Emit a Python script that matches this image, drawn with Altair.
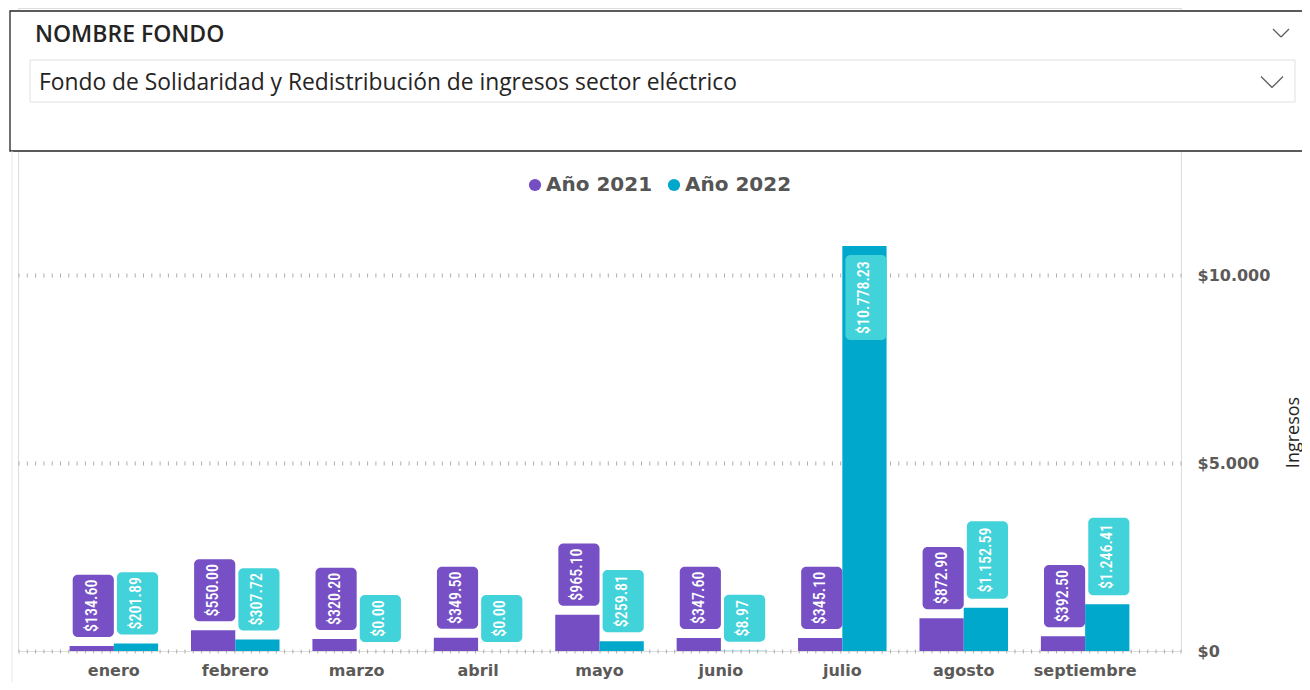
import altair as alt
import pandas as pd

# ---------------- data ----------------
months = ["enero", "febrero", "marzo", "abril", "mayo", "junio", "julio", "agosto", "septiembre"]
years = ["Año 2021", "Año 2022"]
ingresos_2021 = [134.60, 550.00, 320.20, 349.50, 965.10, 347.60, 345.10, 872.90, 392.50]
ingresos_2022 = [201.89, 307.72, 0.00, 0.00, 259.81, 8.97, 10778.23, 1152.59, 1246.41]
y_tick_values = [0, 5000, 10000]
y_tick_labels = ["$0", "$5.000", "$10.000"]
filter_title = "NOMBRE FONDO"
filter_value = "Fondo de Solidaridad y Redistribución de ingresos sector eléctrico"
axis_title = "Ingresos"

bar_colors = ["#744EC2", "#00A8CC"]
box_colors = ["#7650C4", "#42D2D9"]


def fmt(v):
    return "$" + f"{v:,.2f}".replace(",", ".")


rows = []
for yr, vals in zip(years, [ingresos_2021, ingresos_2022]):
    for m, v in zip(months, vals):
        rows.append({"mes": m, "anio": yr, "valor": v, "etiqueta": fmt(v)})
df = pd.DataFrame(rows)

# ---------------- layout ----------------
PLOT_W = 1163
PLOT_H = 643
Y_MAX = 11500
Y_RANGE_TOP = 211          # pixel of Y_MAX inside the view
K = (PLOT_H - Y_RANGE_TOP) / Y_MAX   # px per unit
FONT = "DejaVu Sans"
LABEL_FONT = "Roboto Condensed, Roboto, sans-serif"
UI_FONT = "Segoe UI, Open Sans, sans-serif"

label_expr = "{" + ",".join(f"'{v}':'{l}'" for v, l in zip(y_tick_values, y_tick_labels)) + "}[datum.value + '']"

x_enc = alt.X(
    "mes:N",
    sort=months,
    scale=alt.Scale(paddingInner=0.271, paddingOuter=0.425),
    axis=alt.Axis(
        title=None, domain=False, ticks=False, grid=False, labelAngle=0,
        labelFont=FONT, labelFontWeight="bold", labelFontSize=16, labelColor="#5c5a58",
        labelPadding=11,
    ),
)
xoff = alt.XOffset("anio:N", sort=years, scale=alt.Scale(paddingInner=0, paddingOuter=0))
y_scale = alt.Scale(domain=[0, Y_MAX], range=[PLOT_H, Y_RANGE_TOP], nice=False, zero=True)

base = alt.Chart(df)

bars = base.mark_bar().encode(
    x=x_enc,
    xOffset=xoff,
    y=alt.Y(
        "valor:Q",
        scale=y_scale,
        axis=alt.Axis(
            orient="right", values=y_tick_values, labelExpr=label_expr,
            domain=False, ticks=False, grid=True,
            gridColor="#adadad", gridWidth=4, gridDash=[1, 7.3],
            labelFont=FONT, labelFontWeight="bold", labelFontSize=16, labelColor="#5c5a58",
            labelPadding=16,
            title=axis_title, titleFont=UI_FONT, titleFontWeight="normal", titleFontSize=18,
            titleColor="#252423", titleAngle=270, titleAlign="center", titleBaseline="middle",
            titleX=112, titleY=424,
        ),
    ),
    color=alt.Color(
        "anio:N",
        scale=alt.Scale(domain=years, range=bar_colors),
        legend=alt.Legend(
            title=None, orient="none", legendX=507, legendY=167, direction="horizontal",
            symbolType="circle", symbolSize=150, symbolStrokeWidth=0, symbolOpacity=1,
            labelFont=FONT, labelFontWeight="bold", labelFontSize=20, labelColor="#555555",
            labelOffset=1, columnPadding=11, padding=0,
        ),
    ),
)

calc = (
    base.transform_calculate(h="7.6*length(datum.etiqueta)+9")
    .transform_calculate(vpx=f"datum.valor*{K}")
    .transform_calculate(inside=f"datum.vpx + 9 + datum.h > {PLOT_H - Y_RANGE_TOP}")
    .transform_calculate(lopx="datum.inside ? datum.vpx - 9 - datum.h : datum.vpx + 9")
    .transform_calculate(
        box_lo=f"datum.lopx/{K}",
        box_hi=f"(datum.lopx + datum.h)/{K}",
        box_mid=f"(datum.lopx + datum.h/2)/{K}",
    )
)

boxes = calc.mark_bar(cornerRadius=5, width=alt.RelativeBandSize(0.93)).encode(
    x=x_enc,
    xOffset=xoff,
    y=alt.Y("box_lo:Q", scale=y_scale),
    y2="box_hi:Q",
    fill=alt.Fill("anio:N", scale=alt.Scale(domain=years, range=box_colors), legend=None),
)

texts = calc.mark_text(
    angle=270, align="center", baseline="middle", color="white",
    font=LABEL_FONT, fontSize=16, fontWeight=500,
).encode(
    x=x_enc,
    xOffset=xoff,
    y=alt.Y("box_mid:Q", scale=y_scale),
    text="etiqueta:N",
)

# ---------------- header (filter card) ----------------
hdr = alt.Chart(pd.DataFrame({"titulo": [filter_title], "valor_filtro": [filter_value]}))

card = hdr.mark_rect(fill="white", stroke="#252423", strokeWidth=1.3).encode(
    x=alt.value(-8), x2=alt.value(1300), y=alt.value(3), y2=alt.value(143)
)
dropdown = hdr.mark_rect(fill="white", stroke="#e3e1df", strokeWidth=1).encode(
    x=alt.value(12), x2=alt.value(1277), y=alt.value(52), y2=alt.value(94)
)
title_txt = hdr.mark_text(
    align="left", baseline="middle", font=UI_FONT, fontSize=23, fontWeight=600, color="#252423"
).encode(x=alt.value(17), y=alt.value(27), text="titulo:N")
value_txt = hdr.mark_text(
    align="left", baseline="middle", font=UI_FONT, fontSize=22.8, color="#252423"
).encode(x=alt.value(21), y=alt.value(75), text="valor_filtro:N")


def chevron(cx, cy, w, h, color, sw):
    a = hdr.mark_rule(color=color, strokeWidth=sw).encode(
        x=alt.value(cx - w / 2), y=alt.value(cy - h / 2), x2=alt.value(cx), y2=alt.value(cy + h / 2)
    )
    b = hdr.mark_rule(color=color, strokeWidth=sw).encode(
        x=alt.value(cx), y=alt.value(cy + h / 2), x2=alt.value(cx + w / 2), y2=alt.value(cy - h / 2)
    )
    return a + b


chev1 = chevron(1263, 25, 16, 8, "#605E5C", 1.2)
chev2 = chevron(1254, 74, 22, 11, "#605E5C", 1.3)
side_line = hdr.mark_rule(color="#e8e8e8", strokeWidth=1).encode(
    x=alt.value(-6), x2=alt.value(-6), y=alt.value(143), y2=alt.value(690)
)

chart = (
    alt.layer(card, dropdown, title_txt, value_txt, chev1, chev2, side_line, bars, boxes, texts)
    .resolve_scale(fill="independent", color="independent")
    .properties(
        width=PLOT_W,
        height=PLOT_H,
        autosize=alt.AutoSizeParams(type="none"),
        padding={"left": 10, "top": 0, "right": 121, "bottom": 31},
    )
    .configure_view(strokeWidth=0, stroke="transparent")
    .configure(background="white")
)

chart.save("out.html", embed_options={"renderer": "svg", "actions": False})
